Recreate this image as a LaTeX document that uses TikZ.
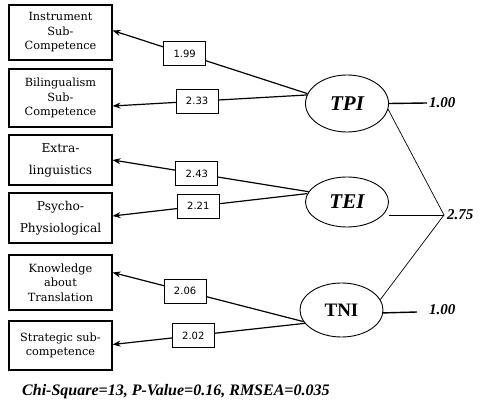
\documentclass[tikz,border=0pt]{standalone}
\usepackage{fontspec}
\setmainfont{Liberation Serif}
\newfontfamily\timesfont{Liberation Serif}
\newfontfamily\boxfont{DejaVu Serif}
\newfontfamily\numfont{DejaVu Sans}
\usetikzlibrary{shapes.geometric,arrows.meta,calc}
\begin{document}
\begin{tikzpicture}[x=1pt,y=-1pt,
  obs/.style={draw,line width=1.1pt,minimum width=103pt,align=center,inner sep=0pt},
  smallobs/.style={obs,font=\boxfont\fontsize{11.3}{14.5}\selectfont},
  bigobs/.style={obs,font=\boxfont\fontsize{12.2}{22}\selectfont},
  latent/.style={draw,ellipse,line width=0.9pt,minimum width=83pt,inner sep=0pt},
  coef/.style={draw,fill=white,line width=0.8pt,minimum width=42pt,minimum height=24pt,inner sep=0pt,font=\numfont\fontsize{10}{12}\selectfont},
  load/.style={line width=1.2pt,-{Stealth[length=8pt,width=6pt]}},
  fix/.style={line width=1.4pt},
  cov/.style={line width=0.7pt},
  val/.style={anchor=west,inner sep=0pt,font=\timesfont\fontsize{15}{17}\selectfont\bfseries\itshape}]
\useasboundingbox (0,0) rectangle (485,406);
% observed variables
\node[smallobs,minimum height=55pt] (b1) at (60.5,32.5) {Instrument\\Sub-\\Competence};
\node[smallobs,minimum height=58pt] (b2) at (60.5,98) {Bilingualism\\Sub-\\Competence};
\node[bigobs,minimum height=50pt] (b3) at (60.5,160) {Extra-\\linguistics};
\node[bigobs,minimum height=50pt] (b4) at (60.5,218) {Psycho-\\Physiological};
\node[smallobs,minimum height=55pt] (b5) at (60.5,282.5) {Knowledge\\about\\Translation};
\node[smallobs,minimum height=49pt] (b6) at (60.5,345.5) {Strategic sub-\\competence};
% latent variables
\node[latent,minimum height=57pt,font=\timesfont\fontsize{21}{23}\selectfont\bfseries\itshape] (tpi) at (347,103.5) {TPI};
\node[latent,minimum height=50pt,font=\timesfont\fontsize{21}{23}\selectfont\bfseries\itshape] (tei) at (347,202) {TEI};
\node[latent,minimum height=54pt,font=\timesfont\fontsize{19}{21}\selectfont\bfseries] (tni) at (341.5,310) {TNI};
% loadings
\draw[load] (tpi.166) -- node[coef,pos=0.63] (c1) {1.99} ($(b1.east)+(0,-2)$);
\draw[load] (tpi.168) -- node[coef,pos=0.565] (c2) {2.33} ($(b2.east)+(0,8)$);
\draw[load] (tei.165) -- node[coef,pos=0.57] (c3) {2.43} (b3.east);
\draw[load] (tei.168) -- node[coef,pos=0.56] (c4) {2.21} ($(b4.east)+(0,-2)$);
\draw[load] (tni.197) -- node[coef,pos=0.62] (c5) {2.06} ($(b5.east)+(0,-10)$);
\draw[load] (tni.200) -- node[coef,pos=0.58] (c6) {2.02} ($(b6.east)+(0,-1)$);
% right side
\coordinate (j) at (444,215);
\coordinate (e1) at (427,103);
\coordinate (e3) at (417,312);
\draw[fix] (tpi.east) -- (e1);
\node[val] (v1) at (429,103) {1.00};
\draw[cov] (tpi.-8) -- (j);
\draw[cov] (j -| tei.east) -- (j);
\draw[cov] (tni.15) -- (j);
\node[val] (v2) at (447,215) {2.75};
\draw[fix] (tni.-4) -- (e3);
\node[val] (v3) at (429,310) {1.00};
% fit statistics
\node[anchor=west,inner sep=0pt,font=\timesfont\fontsize{16}{18}\selectfont\bfseries\itshape] (fit) at (22,392) {Chi-Square=13, P-Value=0.16, RMSEA=0.035};
\end{tikzpicture}
\end{document}
